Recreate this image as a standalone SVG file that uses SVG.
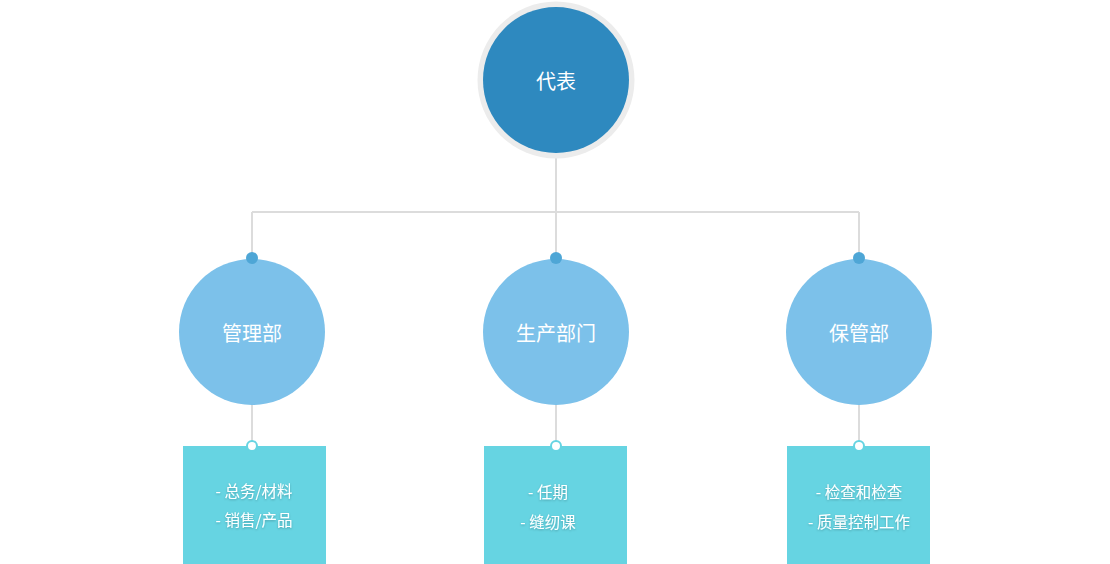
<svg xmlns="http://www.w3.org/2000/svg" width="1110" height="564" viewBox="0 0 1110 564">
<defs>
<style>
.line{stroke:#dcdcdc;stroke-width:2;fill:none}
.dot{fill:#4ea6d6}
.mid{fill:#7cc1ea}
.box{fill:#66d4e2}
.hole{fill:#ffffff;stroke:#66d4e2;stroke-width:2}
.t{font-family:"Noto Sans CJK SC","Noto Sans",sans-serif;fill:#ffffff;text-anchor:middle;dominant-baseline:central}
.big{font-size:20px}
.small{font-size:15.5px}
</style>
<filter id="sh" x="-20%" y="-50%" width="140%" height="200%">
<feDropShadow dx="0" dy="1" stdDeviation="1" flood-color="#000" flood-opacity="0.25"/>
</filter>
</defs>
<rect width="1110" height="564" fill="#ffffff"/>
<g id="connectors">
<path class="line" d="M556 156 V212 M252 212 H859 M252 212 V258 M556 212 V258 M859 212 V258"/>
<path class="line" d="M252 405 V446 M556 405 V446 M859 405 V446"/>
</g>
<g id="node-root">
<circle cx="556" cy="80" r="78.5" fill="#ececec"/>
<circle cx="556" cy="80" r="73" fill="#2e89bf"/>
<text class="t big" x="556" y="80">代表</text>
</g>
<g id="node-admin">
<circle class="mid" cx="252" cy="332" r="73"/>
<circle class="dot" cx="252" cy="258" r="6"/>
<text class="t big" x="252" y="332">管理部</text>
</g>
<g id="node-production">
<circle class="mid" cx="556" cy="332" r="73"/>
<circle class="dot" cx="556" cy="258" r="6"/>
<text class="t big" x="556" y="332">生产部门</text>
</g>
<g id="node-storage">
<circle class="mid" cx="859" cy="332" r="73"/>
<circle class="dot" cx="859" cy="258" r="6"/>
<text class="t big" x="859" y="332">保管部</text>
</g>
<g id="box-admin">
<rect class="box" x="183" y="446" width="143" height="118"/>
<circle class="hole" cx="252" cy="446" r="5"/>
<text class="t small" x="254" y="490" filter="url(#sh)">- 总务/材料</text>
<text class="t small" x="254" y="519" filter="url(#sh)">- 销售/产品</text>
</g>
<g id="box-production">
<rect class="box" x="484" y="446" width="143" height="118"/>
<circle class="hole" cx="556" cy="446" r="5"/>
<text class="t small" x="548" y="491" filter="url(#sh)">- 任期</text>
<text class="t small" x="548" y="521" filter="url(#sh)">- 缝纫课</text>
</g>
<g id="box-storage">
<rect class="box" x="787" y="446" width="143" height="118"/>
<circle class="hole" cx="859" cy="446" r="5"/>
<text class="t small" x="859" y="491" filter="url(#sh)">- 检查和检查</text>
<text class="t small" x="859" y="521" filter="url(#sh)">- 质量控制工作</text>
</g>
</svg>
